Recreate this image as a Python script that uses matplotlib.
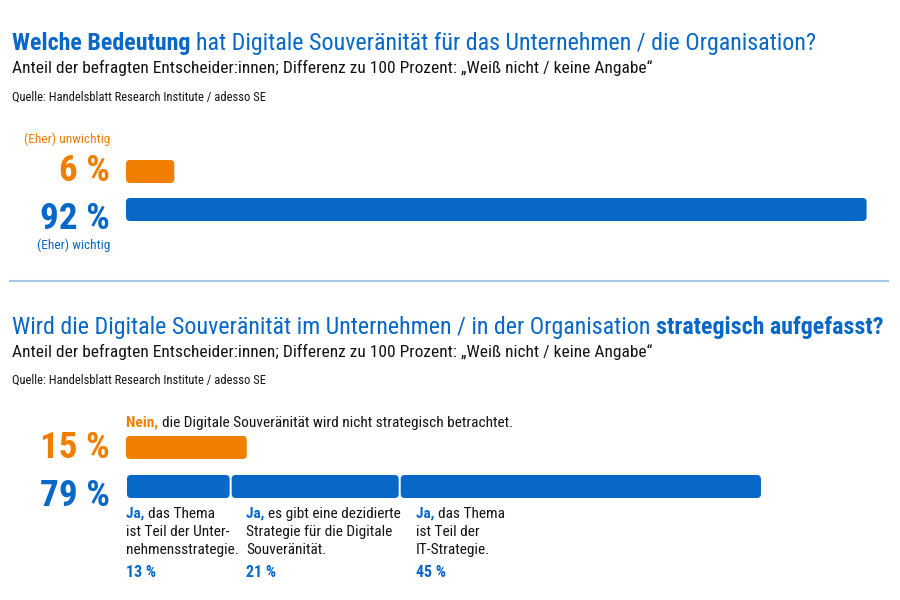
import matplotlib.pyplot as plt
from matplotlib.patches import FancyBboxPatch

# data
q1_labels = ['(Eher) unwichtig', '(Eher) wichtig']
q1_values = [6, 92]
q2_no = 15
q2_yes = 79
q2_parts = [13, 21, 45]
q2_part_texts = [['das Thema', 'ist Teil der Unter-', 'nehmensstrategie.'],
                 ['es gibt eine dezidierte', 'Strategie für die Digitale', 'Souveränität.'],
                 ['das Thema', 'ist Teil der', 'IT-Strategie.']]
subtitle = 'Anteil der befragten Entscheider:innen; Differenz zu 100 Prozent: „Weiß nicht / keine Angabe“'
source = 'Quelle: Handelsblatt Research Institute / adesso SE'

BLUE = '#0868C8'
ORANGE = '#F07F00'
INK = '#141414'
LINE = '#A8C8EA'
plt.rcParams['font.family'] = ['Roboto Condensed', 'DejaVu Sans']
plt.rcParams['font.stretch'] = 'condensed'

W, H = 900, 600
X0 = 126          # left edge of bars (px)
PX = 8.05         # px per percent

fig = plt.figure(figsize=(9, 6), dpi=100)
ax = fig.add_axes([0, 0, 1, 1])
ax.set_xlim(-X0 / PX, (W - X0) / PX)
ax.set_ylim(H, 0)
ax.axis('off')

# pixel overlay for text
tx = fig.add_axes([0, 0, 1, 1])
tx.set_xlim(0, W)
tx.set_ylim(H, 0)
tx.axis('off')
tx.patch.set_alpha(0)

r = fig.canvas.get_renderer()


def width(items, size):
    w = 0
    for s, c, wgt in items:
        t = tx.text(0, 0, s, fontsize=size, fontweight=wgt)
        w += t.get_window_extent(renderer=r).width
        t.remove()
    return w


def fit(items, target, maxsize):
    s = maxsize * target / width(items, maxsize)
    return min(s, maxsize)


def parts(x, y, items, size, ha='left'):
    # items: list of (text, color, weight)
    if ha == 'right':
        x = x - width(items, size)
    for s, c, wgt in items:
        t = tx.text(x, y, s, color=c, fontsize=size, fontweight=wgt,
                    va='baseline', ha='left')
        x = x + t.get_window_extent(renderer=r).width


def bar(x, w, y, h, color):
    p = FancyBboxPatch((x, y), w, h, boxstyle='round,pad=0,rounding_size=0.5',
                       mutation_aspect=PX, fc=color, ec='none')
    ax.add_patch(p)


# common sizes
t1 = [('Welche Bedeutung ', BLUE, 'bold'),
      ('hat Digitale Souveränität für das Unternehmen / die Organisation?', BLUE, 'normal')]
t2 = [('Wird die Digitale Souveränität im Unternehmen / in der Organisation ', BLUE, 'normal'),
      ('strategisch aufgefasst?', BLUE, 'bold')]
s_title = min(fit(t1, 805, 22), fit(t2, 870, 22))
s_sub = fit([(subtitle, INK, 'normal')], 652, 12.5)
s_src = fit([(source, INK, 'normal')], 266, 9)
s_big = fit([(f'{q1_values[1]} %', BLUE, 'bold')], 70, 30)
s_lab = fit([(q1_labels[1], BLUE, 'normal')], 73, 11.5)
s_seg = fit([(q2_part_texts[1][1], INK, 'normal')], 147, 11.5)
s_pct = 11.5

# ---------- part 1 ----------
parts(12, 50, t1, s_title)
tx.text(12, 73, subtitle, fontsize=s_sub, va='baseline', color=INK)
tx.text(12, 101, source, fontsize=s_src, va='baseline', color=INK)

bar(0, q1_values[0], 160, 23, ORANGE)
bar(0, q1_values[1], 198, 23, BLUE)

tx.text(110, 143, q1_labels[0], color=ORANGE, fontsize=s_lab, ha='right', va='baseline')
tx.text(110, 181, f'{q1_values[0]} %', color=ORANGE, fontsize=s_big, fontweight='bold',
        ha='right', va='baseline')
tx.text(110, 229, f'{q1_values[1]} %', color=BLUE, fontsize=s_big, fontweight='bold',
        ha='right', va='baseline')
tx.text(110, 249, q1_labels[1], color=BLUE, fontsize=s_lab, ha='right', va='baseline')

tx.plot([10, 888], [281, 281], color=LINE, lw=1.5)

# ---------- part 2 ----------
parts(12, 334, t2, s_title)
tx.text(12, 357, subtitle, fontsize=s_sub, va='baseline', color=INK)
tx.text(12, 384, source, fontsize=s_src, va='baseline', color=INK)

parts(126, 427, [('Nein, ', ORANGE, 'bold'),
                 ('die Digitale Souveränität wird nicht strategisch betrachtet.', INK, 'normal')], s_seg)

bar(0, q2_no, 436, 23, ORANGE)
tx.text(110, 458, f'{q2_no} %', color=ORANGE, fontsize=s_big, fontweight='bold',
        ha='right', va='baseline')
tx.text(110, 506, f'{q2_yes} %', color=BLUE, fontsize=s_big, fontweight='bold',
        ha='right', va='baseline')

label_x = [126, 246, 416]
left = 0
gap = 1 / PX
for i, v in enumerate(q2_parts):
    bar(left + gap, v - 2 * gap, 475, 23, BLUE)
    lx = label_x[i]
    lines = q2_part_texts[i]
    parts(lx, 518, [('Ja, ', BLUE, 'bold'), (lines[0], INK, 'normal')], s_seg)
    tx.text(lx, 536, lines[1], fontsize=s_seg, va='baseline', color=INK)
    tx.text(lx, 554, lines[2], fontsize=s_seg, va='baseline', color=INK)
    tx.text(lx, 577, f'{v} %', fontsize=s_pct, fontweight='bold', va='baseline', color=BLUE)
    left += v

fig.savefig('out.png', dpi=100)
